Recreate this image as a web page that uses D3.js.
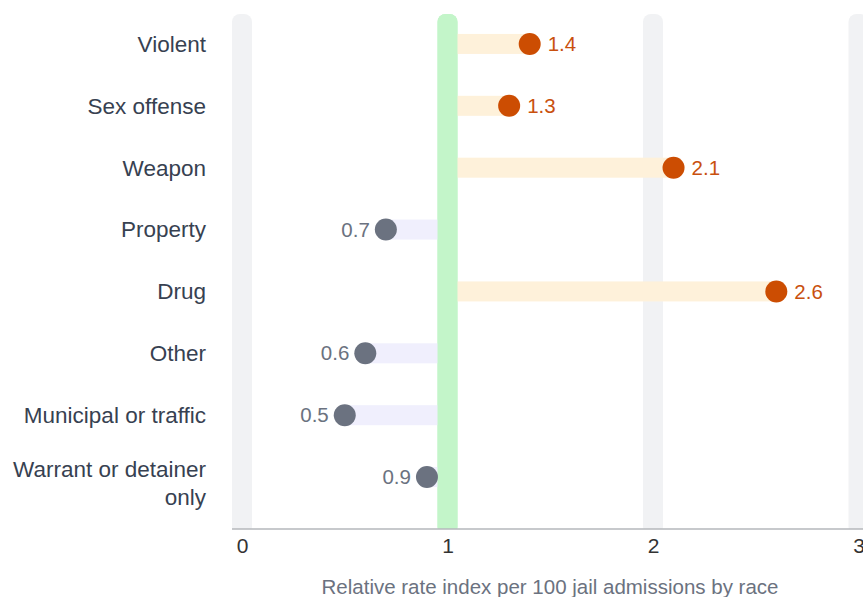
<!DOCTYPE html>
<html><head><meta charset="utf-8">
<script src="https://cdn.jsdelivr.net/npm/d3@7"></script>
<style>
html,body{margin:0;padding:0;background:#fff;}
svg{display:block;font-family:"Liberation Sans", Arial, sans-serif;}
</style></head>
<body><svg id="chart" width="863" height="597"></svg>
<script>
const categories = ["Violent","Sex offense","Weapon","Property","Drug","Other","Municipal or traffic","Warrant or detainer only"];
const values = [1.4,1.3,2.1,0.7,2.6,0.6,0.5,0.9];
const tickValues = [0,1,2,3];
const axisTitle = "Relative rate index per 100 jail admissions by race";

(function(){
const svg = d3.select("#chart");
const x = d3.scaleLinear().domain([0,3]).range([242,858.5]);
const y = d3.scaleBand().domain(categories).range([13,508]);
const yc = d => y(d) + y.bandwidth()/2;
const plotTop = 14, plotBottom = 529;

svg.append("g").selectAll("rect").data(tickValues).join("rect")
  .attr("x", d => x(d)-10).attr("y", plotTop).attr("width", 20).attr("height", plotBottom-plotTop+6)
  .attr("rx", 8).attr("fill", d => d===1 ? "#c3f5c9" : "#f1f2f4");

const data = categories.map((c,i)=>({c, v: values[i]}));

svg.append("g").selectAll("rect").data(data).join("rect")
  .attr("x", d => Math.min(x(d.v), x(1)))
  .attr("width", d => Math.abs(x(d.v)-x(1)))
  .attr("y", d => yc(d.c)-10).attr("height", 20)
  .attr("fill", d => d.v>1 ? "#fef1da" : "#f0effd");

svg.append("rect").attr("x", x(1)-10).attr("y", plotTop).attr("width", 20).attr("height", plotBottom-plotTop+6)
  .attr("rx", 8).attr("fill", "#c3f5c9");

svg.append("rect").attr("x",0).attr("y",plotBottom).attr("width",863).attr("height",68).attr("fill","#fff");

svg.append("g").selectAll("circle").data(data).join("circle")
  .attr("cx", d => x(d.v)).attr("cy", d => yc(d.c)).attr("r", 11)
  .attr("fill", d => d.v>1 ? "#cc4d02" : "#6b7280");

svg.append("g").selectAll("text").data(data).join("text")
  .attr("x", d => d.v>1 ? x(d.v)+18 : x(d.v)-16)
  .attr("y", d => yc(d.c)).attr("dy","0.35em")
  .attr("text-anchor", d => d.v>1 ? "start" : "end")
  .attr("font-size", 20.5)
  .attr("fill", d => d.v>1 ? "#c9500e" : "#6b7280")
  .text(d => d.v.toFixed(1));

const lab = svg.append("g").selectAll("text").data(categories).join("text")
  .attr("text-anchor","end").attr("font-size",22.5).attr("fill","#374151")
  .attr("x",206);
lab.each(function(d){
  const t = d3.select(this);
  if (d === "Warrant or detainer only") {
    t.attr("y", yc(d)-8).attr("dy","0.35em");
    t.append("tspan").attr("x",206).text("Warrant or detainer");
    t.append("tspan").attr("x",206).attr("dy","1.25em").text("only");
  } else {
    t.attr("y", yc(d)).attr("dy","0.35em").text(d);
  }
});

const ax = svg.append("g").attr("transform",`translate(0,${plotBottom})`)
  .call(d3.axisBottom(x).tickValues(tickValues).tickFormat(d3.format("d")).tickSize(0).tickPadding(9));
ax.select(".domain").attr("stroke","#b5b7bb").attr("stroke-width",1.5).attr("d","M232,0H863");
ax.selectAll("text").attr("font-size",21).attr("fill","#333").attr("font-family","'Liberation Sans', Arial, sans-serif");

svg.append("text").attr("x", 550).attr("y", 594).attr("text-anchor","middle")
  .attr("font-size",20.5).attr("fill","#6b7280").text(axisTitle);
})();
</script></body></html>
